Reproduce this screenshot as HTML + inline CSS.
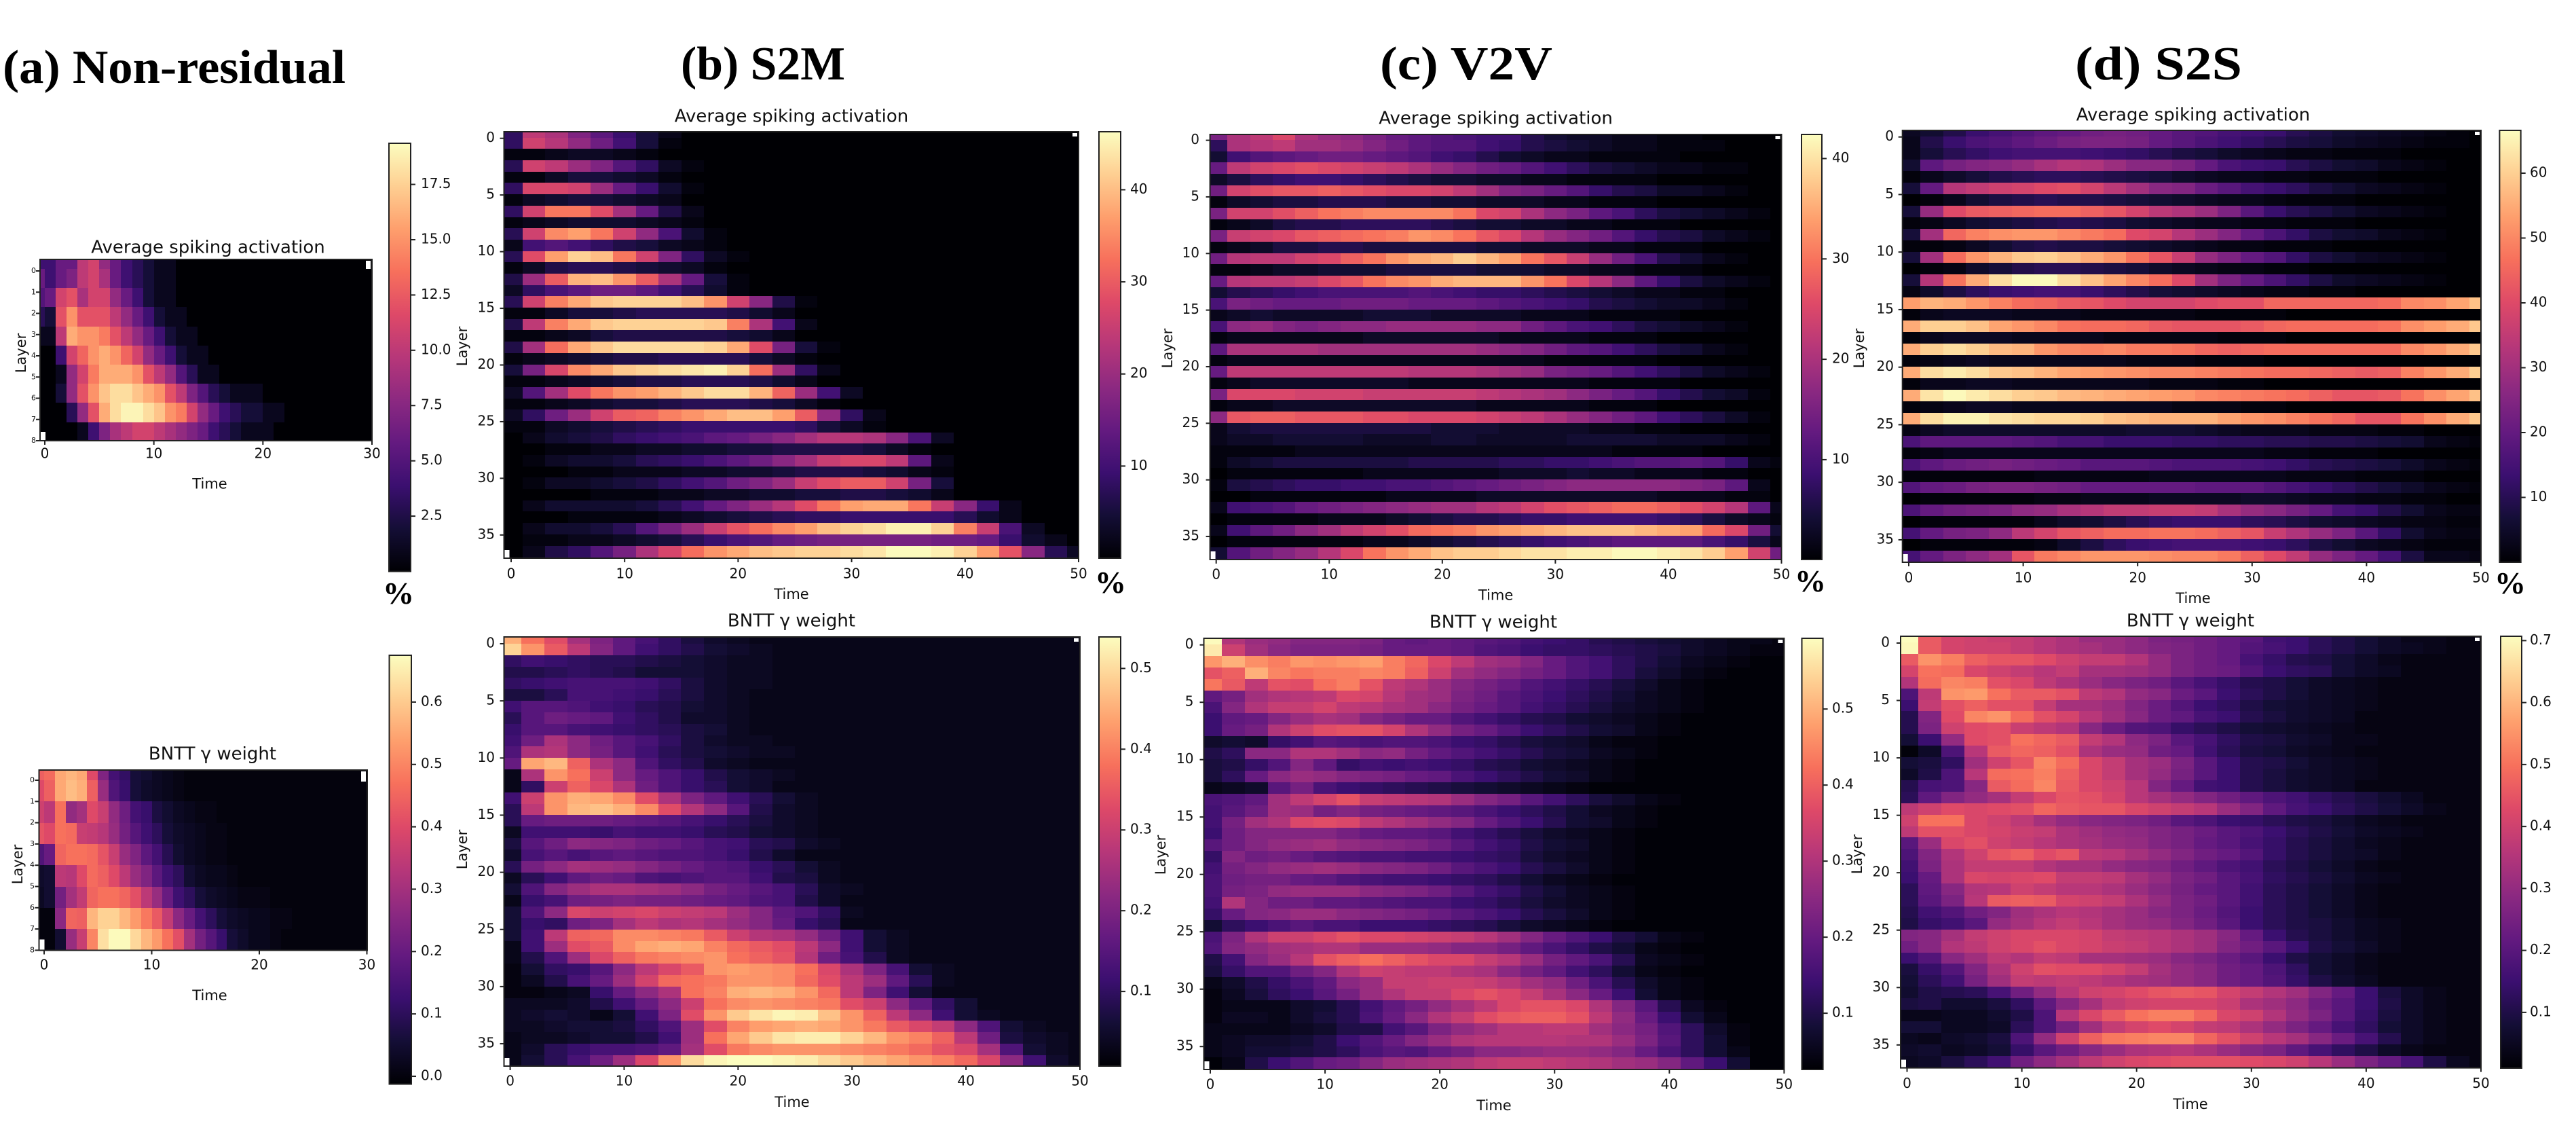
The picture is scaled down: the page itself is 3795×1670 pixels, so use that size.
<!DOCTYPE html>
<html lang="en">
<head>
<meta charset="utf-8">
<title>Spiking activation and BNTT gamma weight heatmaps</title>
<style>
html,body{margin:0;padding:0;background:#fff;}
svg{display:block;}
text{font-family:"DejaVu Sans",sans-serif;fill:#111;}
.heading{font-family:"Liberation Serif",serif;font-weight:bold;font-size:70px;fill:#000;}
.pct{font-family:"Liberation Serif",serif;font-weight:bold;font-size:46px;fill:#000;}
</style>
</head>
<body>
<svg id="fig" xmlns="http://www.w3.org/2000/svg" width="3795" height="1670" viewBox="0 0 3795 1670">
<defs><linearGradient id="magmaGrad" x1="0" y1="1" x2="0" y2="0"></linearGradient></defs>
<text class="heading" x="4" y="122" textLength="505" lengthAdjust="spacingAndGlyphs">(a) Non-residual</text>
<text class="heading" x="1003" y="117" textLength="242" lengthAdjust="spacingAndGlyphs">(b) S2M</text>
<text class="heading" x="2033" y="117" textLength="254" lengthAdjust="spacingAndGlyphs">(c) V2V</text>
<text class="heading" x="3057" y="117" textLength="246" lengthAdjust="spacingAndGlyphs">(d) S2S</text>
<text class="pct" x="587" y="889" text-anchor="middle">%</text>
<text class="pct" x="1636" y="873" text-anchor="middle">%</text>
<text class="pct" x="2667" y="871" text-anchor="middle">%</text>
<text class="pct" x="3698" y="874" text-anchor="middle">%</text>
</svg>
<script>
const xTicks30=[0,10,20,30];
const xTicks50=[0,10,20,30,40,50];
const yTicks8=[0,1,2,3,4,5,6,7,8];
const yTicks37=[0,5,10,15,20,25,30,35];
const aSpikeCbTicks=[2.5,5,7.5,10,12.5,15,17.5];
const aGammaCbTicks=[0,10,20,30,40,50,60];
const s2mSpikeCbTicks=[10,20,30,40];
const s2mGammaCbTicks=[10,20,30,40,50];
const v2vSpikeCbTicks=[10,20,30,40];
const v2vGammaCbTicks=[10,20,30,40,50];
const s2sSpikeCbTicks=[10,20,30,40,50,60];
const s2sGammaCbTicks=[10,20,30,40,50,60,70];

const aSpikeRows=[
[4,4,6,6,10,11,8,6,4,3,2,1,1],
[6,4,6,7,10,11,9,6,4,3,2,1,1],
[5,6,11,12,9,11,11,8,6,4,2,1,1],
[3,2,12,15,12,12,12,10,8,6,4,2,1,1],
[1,1,10,16,15,15,14,12,10,8,6,4,2,1,1],
[0,0,4,11,13,15,16,15,13,11,8,6,4,2,1,1],
[0,0,1,8,11,14,16,16,16,15,12,10,8,5,3,1,1],
[0,0,2,8,12,15,17,18,18,17,16,15,12,10,7,5,3,2,1,1,1],
[0,0,0,3,8,12,16,18,19,19,18,17,15,14,11,8,6,4,3,2,2,1,1],
[0,0,0,0,1,4,7,9,10,11,11,10,9,8,7,6,4,3,2,1,1,1]
];
const aGammaRows=[
[44,46,55,57,55,40,24,14,11,6,5,3,2,1],
[40,44,55,58,56,44,28,16,12,6,4,3,2,1],
[37,34,47,27,30,40,36,27,21,14,12,7,5,3,2,1,1],
[42,40,47,46,36,35,33,28,22,17,13,10,6,4,3,2,1,1],
[16,20,45,47,47,46,42,36,28,24,18,14,9,5,3,2,1,1],
[4,5,34,33,40,46,44,40,34,28,24,18,13,10,5,3,2,2,1],
[3,5,22,30,35,45,47,47,45,41,34,28,20,13,10,6,4,3,2,1,1,1],
[0,0,26,45,44,57,61,61,57,53,48,43,35,26,20,14,10,6,4,3,2,2,1,1],
[0,0,5,28,36,50,63,67,67,62,57,53,47,41,30,22,17,12,6,4,2,2,1]
];
const s2mSpikeRows=[
[8,24,22,17,13,9,5,2],
[8,26,23,19,15,10,5,1],
[1,1,2,3,3,2,1],
[7,26,24,20,17,12,8,3,1],
[1,1,3,5,5,4,3,1],
[8,27,27,26,20,14,9,4,1],
[1,3,4,5,5,4,3,2],
[8,26,33,33,28,21,14,6,2],
[1,2,3,4,4,4,3,2,1],
[7,26,35,37,33,26,19,11,4,1],
[2,10,12,10,8,6,5,3,2,1],
[7,28,37,42,40,33,26,17,8,3,1],
[1,3,6,7,7,6,5,4,3,1],
[6,20,30,39,40,36,30,22,14,5,1],
[3,8,11,13,15,15,13,10,7,4,1],
[7,26,34,38,41,42,42,42,40,36,26,18,6,1],
[1,1,3,5,5,6,7,7,7,7,6,4,2],
[6,24,34,38,41,42,42,42,42,41,34,22,10,2],
[1,1,2,3,5,6,6,6,6,6,5,4,2],
[6,21,32,38,41,43,43,43,43,42,38,28,16,5,1],
[1,2,3,4,5,6,6,7,7,7,7,5,3,1],
[5,16,27,35,38,41,42,43,44,45,42,32,20,8,2],
[1,1,2,3,4,5,6,6,7,7,7,6,4,2],
[3,12,21,28,33,36,37,39,41,43,43,39,31,20,10,3],
[1,1,2,3,4,5,5,6,7,7,7,6,5,3,1],
[3,8,15,20,26,30,31,34,36,38,40,40,37,30,19,8,2],
[1,1,3,4,5,6,7,8,9,9,9,9,9,8,5,3,1],
[0,2,4,5,6,8,9,10,11,13,14,16,18,21,23,23,22,18,11,3],
[0,0,1,1,2,2,3,3,4,4,5,5,6,6,6,6,5,3,1],
[0,1,3,4,4,5,7,8,9,11,13,15,18,21,25,27,27,24,13,2],
[0,0,0,1,1,2,2,2,3,3,4,4,5,6,6,6,5,4,2,1],
[0,1,3,3,4,5,6,8,10,12,15,17,20,25,28,30,30,26,16,5],
[0,0,0,0,1,1,1,2,2,3,3,4,4,5,5,6,6,5,4,2],
[0,2,4,4,4,4,5,7,10,14,17,20,23,28,33,37,38,38,33,25,18,9,2],
[0,0,0,1,1,1,1,2,3,4,5,6,7,8,8,9,9,9,9,9,7,4,2],
[0,2,4,4,5,7,12,16,20,25,29,32,35,37,40,42,43,45,45,42,34,25,11,3],
[0,1,1,2,2,3,4,5,7,9,11,12,14,15,16,16,16,16,16,15,15,14,9,4,2],
[0,2,6,8,12,16,22,27,32,36,38,40,41,42,42,43,44,46,46,45,42,37,29,18,7,3]
];
const s2mGammaRows=[
[45,38,33,25,20,16,13,10,7,5,4,3],
[49,42,35,28,21,16,12,10,8,6,5,4,3],
[10,12,11,10,9,9,8,7,6,5,4,4,3,3],
[8,8,9,10,9,8,6,6,6,5,4,4,3,3],
[10,11,12,13,13,13,12,10,7,5,4,4,3,3],
[7,7,9,13,13,12,11,9,7,5,4,3,3,3],
[12,15,15,14,12,11,9,8,6,5,4,3,3,3],
[9,15,18,17,16,12,10,8,5,5,4,3,3,3],
[11,15,15,13,12,11,10,9,7,6,4,3,3,3],
[12,18,26,22,18,15,13,10,7,5,4,4,3,3],
[14,26,27,22,19,15,12,9,7,6,5,4,4,3,3],
[17,44,46,36,26,22,14,10,8,5,4,3,3],
[3,26,42,38,30,22,17,14,11,8,6,5,4,3,3,3],
[3,10,30,36,32,26,18,14,11,9,6,5,3,3],
[12,30,42,45,44,41,33,26,20,16,12,9,6,4,3,3,3],
[9,28,42,46,47,45,41,33,27,22,15,8,5,4,3,3],
[9,17,18,18,18,17,16,15,13,11,9,7,5,4,3,3],
[4,12,12,12,11,13,12,12,11,9,8,6,5,4,3,3],
[7,15,18,22,21,20,18,17,15,13,12,9,8,5,4,3],
[5,13,15,13,15,16,15,14,14,13,11,8,5,3,3],
[9,19,22,25,24,23,21,19,17,15,14,11,9,6,4,3],
[4,9,12,16,18,17,14,13,14,15,15,12,8,7,4,3],
[6,14,21,24,26,26,25,24,22,19,17,15,13,9,5,4],
[3,11,13,18,19,20,19,19,18,17,16,14,13,8,5,3,3],
[6,14,22,32,30,31,32,30,29,28,24,21,16,14,10,4,3],
[6,11,10,18,20,25,28,26,27,25,23,21,17,11,9,3,3],
[6,12,28,36,37,41,41,40,39,35,30,27,26,23,18,12,6,4,3],
[3,12,24,33,35,41,44,45,44,40,37,35,33,28,22,12,6,4,3],
[3,8,14,24,32,36,39,40,41,42,38,36,34,27,18,13,8,4,3],
[2,6,10,11,15,22,28,32,35,42,43,42,41,38,32,26,20,13,6,4,3],
[2,4,8,13,17,24,31,37,38,39,42,42,41,37,33,28,24,16,9,4,3],
[2,2,3,4,11,17,22,26,38,40,45,46,45,42,37,28,20,12,6,3],
[4,4,4,5,8,12,17,22,30,38,41,42,41,40,39,33,30,22,16,10,6,3],
[4,5,6,5,3,6,12,20,33,42,48,51,53,52,47,42,36,28,22,12,6,4,3,3],
[4,4,5,6,6,7,10,14,24,33,40,43,44,45,44,42,39,35,32,29,22,14,6,4,3],
[3,4,4,5,6,6,8,12,24,38,44,48,51,52,52,49,46,42,40,36,28,18,7,5,4,3],
[3,5,9,11,13,13,14,16,25,33,39,41,42,42,42,41,40,39,37,34,32,25,14,6,4,3],
[3,6,9,13,18,24,32,42,50,53,54,54,53,52,50,48,46,44,42,40,37,32,22,12,5,3]
];
const v2vSpikeRows=[
[15,20,22,25,20,18,17,15,13,12,11,10,9,9,6,4,3,3,2,2,1,1],
[7,20,21,22,19,19,18,16,14,12,11,11,9,8,6,5,4,3,2,2,1,1,1],
[4,9,11,12,13,14,14,13,12,11,9,8,6,4,3,2,2,1,1,1,1],
[13,22,24,25,26,25,24,23,22,20,18,16,14,13,11,9,7,5,4,3,2,2,1,1],
[3,5,7,8,9,9,8,7,6,5,4,4,3,3,2,2,1,1,1,1],
[14,24,26,27,27,28,27,26,25,25,24,22,19,16,15,13,11,8,6,5,3,3,2,1],
[1,3,4,5,5,6,6,6,5,5,4,4,3,3,3,2,2,1,1,1],
[15,24,24,26,28,30,31,32,32,32,32,30,25,24,20,17,15,12,10,7,5,4,3,2,1],
[1,2,3,5,6,6,7,7,7,7,6,5,4,4,3,3,2,2,1,1,1],
[15,23,24,25,27,28,29,30,31,33,32,30,27,25,21,18,16,14,11,8,6,5,3,2,1],
[1,2,3,5,5,6,6,5,5,5,5,5,4,4,3,3,3,2,2,1,1,1],
[14,21,22,22,24,25,28,30,33,35,36,38,36,34,30,27,23,18,14,10,6,4,2,1],
[1,1,2,3,3,4,4,4,5,5,5,5,4,4,4,3,3,2,2,1,1,1],
[13,21,22,22,23,25,27,30,32,33,35,36,36,36,33,30,25,21,17,12,8,5,3,2,1],
[4,6,7,8,9,10,10,10,10,11,10,9,8,8,7,6,5,4,3,2,2,1,1],
[10,15,14,13,13,13,14,14,14,13,13,13,12,11,10,9,8,6,5,4,3,3,2,1],
[2,3,4,3,3,3,3,4,4,4,3,3,3,3,2,2,2,1,1,1,1],
[10,17,18,16,15,16,17,17,18,18,18,18,17,17,14,12,10,9,7,5,4,3,2,1],
[1,2,2,2,2,2,2,3,3,3,3,3,3,2,2,2,2,1,1,1],
[12,20,20,20,20,19,19,19,19,19,19,19,18,17,16,14,12,11,9,7,5,4,2,1],
[1,2,2,2,2,2,2,2,2,2,2,2,2,2,2,1,1,1,1,1],
[13,22,22,22,22,22,22,22,22,21,21,21,20,19,18,15,14,13,11,9,7,5,3,2,1],
[1,2,3,3,3,3,3,3,3,2,2,2,2,2,2,2,2,1,1,1,1],
[15,25,25,25,24,24,24,23,23,23,23,23,22,21,20,19,17,15,13,11,8,6,4,3,1],
[1,2,2,3,3,3,3,3,3,3,3,3,2,2,2,2,2,1,1,1],
[17,27,28,28,27,27,27,26,26,25,25,25,24,23,22,20,18,16,14,12,9,7,5,3,1],
[2,4,5,5,5,5,5,5,5,5,4,4,4,3,3,3,3,2,2,1,1],
[2,3,3,4,4,4,4,3,3,3,4,4,3,3,3,3,4,4,4,4,3,3,3,2,1],
[1,1,1,1,2,2,2,2,2,2,2,2,2,2,2,2,2,2,1,1,1,1],
[1,3,4,5,5,5,5,5,5,6,6,6,6,7,7,8,8,9,10,11,11,12,11,8,2,1],
[0,1,1,1,1,1,1,2,2,2,2,2,2,3,3,3,4,3,3,2,2,2,1,1],
[1,5,6,7,8,8,9,9,10,10,11,12,13,14,15,16,17,17,17,17,17,16,15,12,2],
[0,0,1,1,1,1,1,1,2,2,2,2,3,3,3,3,3,3,3,3,2,2,2,1,1],
[2,9,10,11,13,14,15,16,17,18,19,19,21,22,24,26,27,28,29,29,28,26,24,21,12,2],
[0,1,1,1,1,2,2,2,3,4,5,6,6,7,8,8,9,9,9,9,8,7,5,3,2,1],
[2,9,12,14,17,19,22,24,26,29,30,31,33,34,35,36,37,37,37,36,35,34,29,25,14,4],
[0,1,1,1,1,1,1,2,2,3,4,5,6,7,8,9,10,11,12,12,12,12,10,8,5,2],
[4,11,14,16,18,21,25,30,33,35,37,38,38,39,40,40,41,41,42,42,41,40,38,34,24,14]
];
const v2vGammaRows=[
[59,30,27,26,24,24,24,23,20,19,20,19,18,17,15,14,13,11,10,9,8,7,6,5,5,4],
[57,34,28,25,23,23,23,22,20,20,20,19,17,16,14,13,13,12,11,10,9,7,6,5,4,4],
[47,50,46,44,47,46,47,48,44,41,36,32,28,27,24,20,17,15,12,10,8,6,5,4,3,3],
[38,40,50,45,43,44,44,45,44,40,34,28,26,24,22,20,17,15,12,9,7,5,4,3,3],
[43,39,32,38,37,42,44,38,32,30,27,24,22,20,17,15,13,11,9,7,5,4,3],
[19,22,28,30,31,32,36,35,31,28,27,23,21,18,16,14,12,10,8,6,5,4,3],
[16,24,30,33,33,35,32,31,29,28,25,22,20,18,15,13,11,9,7,6,5,4,3],
[14,19,20,24,27,29,28,24,22,20,20,17,15,13,11,10,8,7,6,5,4,3],
[14,20,22,30,34,37,38,38,35,30,26,22,20,17,14,12,10,8,7,5,4,3],
[7,8,7,13,15,18,17,16,17,17,16,14,13,11,9,8,7,5,4,4,3],
[10,12,25,25,30,30,28,25,26,22,19,17,15,13,11,9,8,6,5,4,3],
[9,10,13,17,24,19,13,15,14,15,14,13,11,10,8,7,6,5,4,3],
[9,12,20,25,27,26,24,23,22,20,19,16,14,12,10,8,7,5,4,3],
[5,6,7,18,22,16,14,13,12,11,10,9,8,7,6,5,4,3],
[16,17,19,28,32,35,38,33,32,31,30,27,24,22,18,15,12,9,7,5,4,3],
[15,18,21,28,27,22,24,22,21,20,19,18,16,14,12,10,8,6,5,4,3],
[15,22,28,30,36,37,36,32,30,28,26,24,20,17,14,11,8,7,5,4,3],
[14,21,24,24,24,24,22,20,19,19,18,15,13,11,9,7,6,5,4,3],
[18,21,24,26,27,28,26,25,24,23,21,18,15,13,10,8,7,5,4,3],
[13,24,21,22,20,18,17,16,16,15,15,14,13,12,9,7,6,5,4,3],
[15,22,24,26,27,28,27,25,24,23,21,18,16,14,11,9,7,5,4,3],
[16,21,22,22,20,19,17,16,15,15,14,13,12,10,8,6,5,4,3],
[16,22,23,26,27,27,27,25,24,23,21,18,15,13,10,8,6,5,4,3],
[15,30,24,21,21,19,19,18,17,16,16,14,13,11,9,7,6,5,4,3],
[13,20,24,25,27,27,25,24,23,22,20,18,16,14,11,9,7,5,4,3],
[8,12,14,16,18,16,16,14,14,14,13,12,11,9,7,6,5,4,3],
[16,23,30,34,34,36,38,36,36,35,34,33,31,28,24,20,17,14,10,8,5,4,3],
[17,24,26,28,29,30,30,27,27,27,26,24,24,22,19,16,13,10,8,5,4,3],
[10,15,24,27,31,38,40,42,40,38,36,36,33,31,27,22,19,16,11,6,5,4,3],
[9,13,17,17,21,24,30,34,33,32,32,30,29,25,22,19,15,12,8,5,4,3],
[5,7,10,13,16,19,25,27,33,33,34,34,33,31,28,26,21,16,11,7,5,4,3],
[4,6,9,12,14,18,22,27,30,33,33,36,38,36,33,29,25,20,14,8,5,4,3],
[4,5,5,5,7,8,11,15,19,22,26,29,32,36,38,38,36,30,24,18,11,6,4,3],
[4,6,6,5,7,9,11,16,20,25,30,33,37,39,40,40,38,32,26,20,14,8,5,3],
[5,5,5,5,6,7,10,10,15,18,23,26,28,31,31,32,32,28,25,22,17,12,7,4,3],
[5,6,7,7,8,10,14,17,20,24,27,30,31,31,31,31,30,30,27,23,18,12,8,4,3],
[5,6,8,8,9,10,12,16,18,17,20,22,25,25,26,27,27,26,24,20,16,12,8,5,3],
[3,5,10,14,17,20,21,24,27,28,29,30,32,33,33,32,31,30,28,27,24,19,14,8,3]
];
const s2sSpikeRows=[
[4,6,9,13,15,17,19,20,22,23,22,20,18,17,15,14,13,10,8,6,5,4,3,2,1],
[3,9,13,16,17,19,21,23,24,24,23,20,18,16,14,12,10,8,7,5,4,3,2,1,1],
[3,7,10,12,14,15,15,15,14,13,12,10,8,7,5,4,3,2,2,1,1,1],
[6,19,23,25,26,28,31,33,32,29,26,26,24,20,16,14,13,10,8,6,5,3,2,1],
[1,3,5,7,9,10,11,11,10,9,8,7,5,4,3,3,2,2,1,1,1],
[7,20,33,35,37,38,40,41,38,34,30,26,25,21,18,15,13,11,8,6,4,3,2,1],
[0,1,3,6,8,9,10,9,9,8,7,6,5,4,3,3,2,1,1,1],
[7,28,40,43,44,45,46,46,44,42,38,34,32,29,24,18,13,10,8,6,4,3,2,1],
[1,2,4,6,7,8,9,10,9,8,6,5,4,3,3,2,2,1,1,1],
[7,30,45,49,51,52,52,50,48,46,40,38,33,29,25,20,16,12,8,6,5,3,2,1],
[1,1,2,4,6,8,9,8,8,7,6,5,4,3,2,2,1,1,1],
[7,30,46,52,56,59,60,58,55,52,47,42,36,28,24,20,17,12,8,6,4,3,2,1],
[0,1,2,5,7,9,10,10,9,8,7,5,4,3,2,2,1,1],
[7,33,47,55,62,66,66,62,58,54,50,46,40,30,24,20,16,12,8,5,4,3,2,1],
[2,5,8,11,13,14,15,15,13,11,9,7,6,5,4,3,2,2,1,1],
[53,56,55,52,49,46,45,43,42,40,38,38,38,40,41,41,45,45,45,45,45,46,50,51,54,58],
[1,3,4,4,4,3,3,3,2,2,2,2,2,1,1,1,1],
[55,60,60,58,54,52,50,47,46,46,45,43,42,42,42,43,45,46,46,46,46,47,51,53,55,59],
[1,3,4,4,4,3,3,3,3,2,2,2,2,2,1,1,1],
[55,60,62,60,57,56,52,50,49,50,48,48,47,45,44,45,46,46,46,46,46,46,50,52,55,59],
[1,2,3,4,3,3,3,3,3,3,2,2,2,1,1,1],
[55,62,64,62,59,58,56,54,53,52,51,50,50,49,48,47,46,46,45,44,43,44,49,52,55,60],
[1,3,3,4,4,3,3,3,3,3,3,2,2,2,1,1],
[55,63,66,64,62,60,59,57,56,55,54,53,52,50,49,48,47,46,44,42,42,43,47,51,54,58],
[1,2,3,4,4,3,3,3,3,3,3,3,2,2,2,1,1],
[55,62,65,65,63,62,61,61,60,58,57,56,56,56,54,52,51,49,47,45,42,42,47,51,55,59],
[2,4,5,5,5,5,5,5,5,5,6,6,6,5,4,3,3,3,2,2,2,1,1],
[16,19,19,19,19,18,17,15,15,13,13,13,12,12,11,11,10,10,9,9,8,7,6,3,2,1],
[1,2,3,3,3,3,3,3,3,3,3,3,3,3,3,3,2,2,1,1,1],
[16,19,21,22,23,22,21,20,18,18,18,17,16,16,16,15,14,12,10,9,8,7,5,3,2,1],
[1,1,1,1,1,1,2,2,2,2,2,3,3,3,3,3,3,2,2,2,1,1,1],
[17,20,21,23,24,24,23,22,20,20,20,20,20,19,19,19,17,15,13,11,9,7,5,3,2,1],
[0,1,1,1,1,1,2,2,3,3,3,4,4,4,4,5,5,4,3,3,2,2,1,1],
[16,20,22,23,24,27,28,31,33,35,35,36,36,35,31,28,26,23,20,15,13,9,6,3,2,2],
[0,1,1,1,1,1,3,5,6,8,10,12,13,13,13,11,10,8,6,5,4,3,2,2,1,1],
[15,20,23,24,27,34,38,42,44,46,46,47,47,46,44,42,36,32,28,24,18,12,6,3,2,2],
[0,1,1,1,1,1,2,5,8,11,13,14,15,15,15,14,13,11,8,6,4,3,2,1,1,1],
[15,20,24,27,30,42,48,50,52,52,52,51,50,50,48,44,40,35,28,24,20,15,8,3,3,2]
];
const s2sGammaRows=[
[71,46,41,40,39,38,36,34,31,31,29,26,25,24,22,20,16,15,12,10,8,6,4,4,3,3],
[70,46,41,40,40,38,36,34,33,31,29,27,26,24,22,19,17,15,12,10,8,6,5,4,3,3],
[46,55,52,47,45,45,43,40,38,38,35,30,26,24,22,17,14,11,10,8,6,4,3,3,3],
[41,50,49,42,40,38,36,38,33,33,32,30,26,24,23,19,15,13,12,8,6,5,3,3,3],
[35,49,53,52,44,42,37,34,31,28,26,24,20,17,14,11,10,8,6,5,4,3,3],
[18,37,55,56,50,46,46,44,37,35,30,28,23,20,15,12,10,8,6,5,4,3,3],
[15,38,44,47,44,44,38,33,33,31,27,23,19,15,13,10,8,7,6,5,4,3,3],
[11,27,43,53,55,49,44,41,36,32,28,23,21,17,15,11,9,7,6,5,3,3],
[11,26,40,43,44,39,37,35,28,23,19,18,14,12,10,8,7,6,5,4,3,3],
[8,15,30,43,44,50,48,46,38,35,29,26,20,17,13,10,9,7,6,4,4,3],
[2,6,18,36,46,48,47,44,34,31,30,24,22,16,12,9,8,6,5,4,3,3],
[8,9,13,32,40,45,53,49,42,38,33,31,26,20,15,11,10,8,6,5,4,3],
[6,10,18,36,49,50,52,47,42,38,33,30,25,20,15,11,9,7,6,5,4,3],
[11,17,18,28,46,49,53,46,42,40,36,27,22,16,15,11,9,7,6,5,3,3],
[12,21,27,30,33,38,42,45,44,41,36,33,30,27,24,21,18,16,13,11,9,7,5,3],
[37,40,43,42,43,44,48,46,45,45,42,40,38,36,31,27,21,17,15,12,10,8,6,4,3],
[40,50,50,42,40,37,33,30,28,27,26,24,20,18,15,14,12,10,9,7,5,4,3],
[37,44,44,42,41,39,38,34,32,30,29,27,25,23,20,18,15,12,10,8,6,5,4,3],
[20,31,42,44,40,38,36,34,33,31,30,27,25,22,20,17,14,11,9,7,5,4,3],
[18,27,35,40,45,47,43,45,37,36,33,30,27,24,22,19,14,11,9,7,6,4,3],
[16,26,34,38,38,38,35,33,33,30,28,27,24,21,18,16,12,10,8,6,4,3],
[15,22,34,42,41,42,43,38,38,37,33,30,26,24,20,17,13,11,9,7,5,4,3],
[12,21,28,35,36,40,38,36,36,34,31,28,25,22,20,16,12,10,8,6,4,3],
[12,20,26,36,46,47,46,41,40,38,34,30,26,24,20,16,12,10,8,6,4,3],
[11,16,19,24,27,32,34,36,35,33,31,28,26,23,19,15,12,10,8,6,4,3],
[10,14,16,20,30,33,36,38,36,33,31,30,27,24,20,15,12,10,9,7,5,4,3],
[27,28,33,38,40,42,42,42,41,38,37,36,34,32,28,22,15,11,9,7,5,4,3],
[24,28,35,37,40,42,44,42,41,39,38,36,34,32,27,24,20,15,10,8,6,4,3],
[15,19,28,32,37,35,38,37,33,33,32,31,28,26,23,20,15,10,8,6,4,3],
[9,14,19,27,34,40,44,43,43,41,38,33,30,28,24,22,18,13,8,6,4,3],
[8,12,16,25,32,38,37,38,37,35,33,32,30,28,24,22,19,14,10,7,5,3],
[7,10,11,12,17,24,30,36,40,41,43,45,46,45,41,38,35,32,27,22,15,9,6,4,3,3],
[9,10,7,7,9,13,21,28,33,38,40,41,41,41,39,34,32,29,24,20,15,10,6,4,3,3],
[4,4,5,5,7,10,18,36,42,46,50,52,52,48,42,40,35,30,26,20,14,9,6,4,3,3],
[8,8,5,5,6,12,18,25,32,38,41,43,41,38,37,34,30,26,22,17,13,8,6,4,3,3],
[5,4,6,7,9,18,30,40,47,51,52,53,53,48,44,40,36,33,28,23,17,11,6,4,3,3],
[6,7,5,6,8,14,20,24,28,31,34,35,36,34,31,28,26,21,17,13,10,6,4,3,3],
[5,6,9,12,16,24,29,33,37,40,42,43,44,44,44,43,42,40,36,31,26,22,17,10,5,3]
];

const magmaStops=["#000004","#140e36","#3b0f70","#641a80","#8c2981","#b73779","#de4968","#f7705c","#fe9f6d","#fecf92","#fcfdbf"];
const magmaRgb=magmaStops.map(function(h){return [parseInt(h.substr(1,2),16),parseInt(h.substr(3,2),16),parseInt(h.substr(5,2),16)];});
function magma(t){
  t=Math.max(0,Math.min(1,t));
  var p=t*10,i=Math.min(9,Math.floor(p)),f=p-i,a=magmaRgb[i],b=magmaRgb[i+1];
  return "rgb("+Math.round(a[0]+(b[0]-a[0])*f)+","+Math.round(a[1]+(b[1]-a[1])*f)+","+Math.round(a[2]+(b[2]-a[2])*f)+")";
}
var NS="http://www.w3.org/2000/svg";
var fig=document.getElementById("fig");
var grad=document.getElementById("magmaGrad");
magmaStops.forEach(function(c,i){
  var s=document.createElementNS(NS,"stop");
  s.setAttribute("offset",(i*10)+"%");
  s.setAttribute("stop-color",c);
  grad.appendChild(s);
});
function mk(tag,attrs,parent,txt){
  var e=document.createElementNS(NS,tag);
  for(var k in attrs){e.setAttribute(k,attrs[k]);}
  if(txt!==undefined){e.textContent=txt;}
  parent.appendChild(e);
  return e;
}

const panels=[
{name:"panel-a-spiking",title:"Average spiking activation",tx:306.5,ty:365,left:59,right:548,top:382,bottom:649,x0:66,x1:548,xMax:30,y0:399,yStep:31.25,rowStart:396,rowStep:28.2,rows:aSpikeRows,floor:0,vmin:0,vmax:19.36,mode:"single",xTicks:xTicks30,yTicks:yTicks8,yFont:11,timeX:309,timeY:713.5,xLabY:669,layerX:32,layerY:520,yLabR:53,cx0:573,cx1:605,ctop:211,cbot:841.5,cTicks:aSpikeCbTicks,cScale:1,cDec:1,cLabX:620,markH:12},
{name:"panel-a-gamma",title:"BNTT \u03b3 weight",tx:313,ty:1111,left:57.5,right:541,top:1134,bottom:1399.5,x0:65,x1:540.5,xMax:30,y0:1149,yStep:31.3,rowStart:1149,rowStep:31.3,rows:aGammaRows,floor:0,vmin:-1.25,vmax:67.5,mode:"single",xTicks:xTicks30,yTicks:yTicks8,yFont:11,timeX:309,timeY:1467,xLabY:1422,layerX:27,layerY:1273,yLabR:51,cx0:573.5,cx1:606,ctop:965,cbot:1596.5,cTicks:aGammaCbTicks,cScale:0.01,cDec:1,cLabX:620,markH:15},
{name:"panel-b-spiking",title:"Average spiking activation",tx:1166,ty:172,left:742.5,right:1589,top:194,bottom:822,x0:753,x1:1589,xMax:50,y0:203.7,yStep:16.69,rowStart:202.7,rowStep:16.69,rows:s2mSpikeRows,floor:0,vmin:0,vmax:46.3,mode:"pair",xTicks:xTicks50,yTicks:yTicks37,yFont:20,timeX:1166,timeY:876,xLabY:846,layerX:682,layerY:510,yLabR:729,cx0:1619,cx1:1651,ctop:194,cbot:822,cTicks:s2mSpikeCbTicks,cScale:1,cDec:0,cLabX:1665,markH:5},
{name:"panel-b-gamma",title:"BNTT \u03b3 weight",tx:1166,ty:915,left:742.5,right:1591,top:938,bottom:1570,x0:751.6,x1:1591,xMax:50,y0:948,yStep:16.83,rowStart:948,rowStep:16.83,rows:s2mGammaRows,floor:3,vmin:0.76,vmax:53.9,mode:"pair",xTicks:xTicks50,yTicks:yTicks37,yFont:20,timeX:1167,timeY:1624,xLabY:1593,layerX:682,layerY:1251,yLabR:729,cx0:1619,cx1:1651,ctop:938,cbot:1570,cTicks:s2mGammaCbTicks,cScale:0.01,cDec:1,cLabX:1665,markH:5},
{name:"panel-c-spiking",title:"Average spiking activation",tx:2203.6,ty:175,left:1782.6,right:2624.5,top:198,bottom:824,x0:1791.7,x1:2624.5,xMax:50,y0:206.6,yStep:16.67,rowStart:206,rowStep:16.67,rows:v2vSpikeRows,floor:0,vmin:0.05,vmax:42.4,mode:"pair",xTicks:xTicks50,yTicks:yTicks37,yFont:20,timeX:2203.6,timeY:877.5,xLabY:847,layerX:1721,layerY:513,yLabR:1767,cx0:2654,cx1:2684,ctop:198,cbot:824,cTicks:v2vSpikeCbTicks,cScale:1,cDec:0,cLabX:2699,markH:5},
{name:"panel-c-gamma",title:"BNTT \u03b3 weight",tx:2200,ty:917,left:1773.5,right:2628.4,top:940,bottom:1575,x0:1783,x1:2628.4,xMax:50,y0:949.7,yStep:16.9,rowStart:949,rowStep:16.9,rows:v2vGammaRows,floor:3,vmin:2.6,vmax:59.3,mode:"pair",xTicks:xTicks50,yTicks:yTicks37,yFont:20,timeX:2201,timeY:1629,xLabY:1598,layerX:1711,layerY:1259,yLabR:1758.5,cx0:2654.5,cx1:2685.6,ctop:940,cbot:1575,cTicks:v2vGammaCbTicks,cScale:0.01,cDec:1,cLabX:2699,markH:5},
{name:"panel-d-spiking",title:"Average spiking activation",tx:3231,ty:170,left:2802.7,right:3655,top:192,bottom:828,x0:2812,x1:3655,xMax:50,y0:201.7,yStep:16.95,rowStart:201,rowStep:16.95,rows:s2sSpikeRows,floor:0,vmin:0,vmax:66.6,mode:"pair",xTicks:xTicks50,yTicks:yTicks37,yFont:20,timeX:3231,timeY:882,xLabY:852,layerX:2740,layerY:513,yLabR:2790,cx0:3682.4,cx1:3713.7,ctop:192,cbot:828,cTicks:s2sSpikeCbTicks,cScale:1,cDec:0,cLabX:3727,markH:5},
{name:"panel-d-gamma",title:"BNTT \u03b3 weight",tx:3227,ty:915,left:2800,right:3655,top:937,bottom:1572.6,x0:2809.5,x1:3655,xMax:50,y0:947,yStep:16.91,rowStart:946,rowStep:16.91,rows:s2sGammaRows,floor:3,vmin:1,vmax:70.7,mode:"pair",xTicks:xTicks50,yTicks:yTicks37,yFont:20,timeX:3227,timeY:1627,xLabY:1596.5,layerX:2737,layerY:1258,yLabR:2784,cx0:3684,cx1:3715,ctop:937,cbot:1573,cTicks:s2sGammaCbTicks,cScale:0.01,cDec:1,cLabX:3727,markH:5}
];

function drawPanel(p){
  var g=document.createElementNS(NS,"g");
  
  
  fig.appendChild(g);
  function xScale(t){return p.x0+(p.x1-p.x0)*t/p.xMax;}
  function yScale(l){return p.y0+p.yStep*l;}
  function colour(v){return magma((v-p.vmin)/(p.vmax-p.vmin));}
  var nCols=p.mode==="pair"?26:31;
  function colEdges(j){
    var a,b;
    if(p.mode==="pair"){a=j===0?p.left:xScale(2*j-1);b=j===0?xScale(1):xScale(2*j+1);}
    else{a=j===0?p.left:xScale(j-1);b=xScale(j);}
    return [Math.round(a),Math.round(Math.min(b,p.right))];
  }
  p.rows.forEach(function(row,i){
    var ya=i===0?p.top:p.rowStart+(i-1)*p.rowStep;
    var yb=p.rowStart+i*p.rowStep;
    if(i===p.rows.length-1){yb=p.bottom;}
    ya=Math.round(ya);
    yb=Math.round(Math.min(yb,p.bottom));
    for(var j=0;j<nCols;j++){
      var ed=colEdges(j);
      if(ed[1]<=ed[0]){continue;}
      var v=j<row.length?row[j]:p.floor;
      var cell=mk("rect",{x:ed[0],y:ya,width:ed[1]-ed[0],height:yb-ya,fill:colour(v),"shape-rendering":"crispEdges"},g);
      
      
    }
  });
  var m1=mk("rect",{x:p.right-9,y:p.top+2,width:7,height:p.markH,fill:"#fff"},g);
  
  
  var m2=mk("rect",{x:p.left+1,y:p.bottom-Math.max(11,p.markH)-1,width:7,height:Math.max(11,p.markH),fill:"#fff"},g);
  
  
  var frame=mk("rect",{x:p.left,y:p.top,width:p.right-p.left,height:p.bottom-p.top,fill:"none",stroke:"#222","stroke-width":2},g);
  
  

  var title=mk("text",{x:p.tx,y:p.ty,"text-anchor":"middle","dominant-baseline":"middle","font-size":26},g,p.title);
  
  
  var timeLab=mk("text",{x:p.timeX,y:p.timeY,"text-anchor":"middle","dominant-baseline":"middle","font-size":21},g,"Time");
  
  
  var layerLab=mk("text",{x:p.layerX,y:p.layerY,"text-anchor":"middle","dominant-baseline":"middle","font-size":21,transform:"rotate(-90 "+p.layerX+" "+p.layerY+")"},g,"Layer");
  
  

  p.xTicks.forEach(function(t){
    var x=xScale(t);
    var tm=mk("line",{x1:x,x2:x,y1:p.bottom,y2:p.bottom+6,stroke:"#222","stroke-width":2},g);
    
    
    var tl=mk("text",{x:x,y:p.xLabY,"text-anchor":"middle","dominant-baseline":"middle","font-size":20},g,String(t));
    
    
  });
  p.yTicks.forEach(function(l){
    var y=yScale(l);
    var tm=mk("line",{x1:p.left-6,x2:p.left,y1:y,y2:y,stroke:"#222","stroke-width":2},g);
    
    
    var tl=mk("text",{x:p.yLabR,y:y,"text-anchor":"end","dominant-baseline":"middle","font-size":p.yFont},g,String(l));
    
    
  });

  var bar=mk("rect",{x:p.cx0,y:p.ctop,width:p.cx1-p.cx0,height:p.cbot-p.ctop,fill:"url(#magmaGrad)",stroke:"#222","stroke-width":2},g);
  
  
  function cScale(v){return p.cbot-(v-p.vmin)/(p.vmax-p.vmin)*(p.cbot-p.ctop);}
  p.cTicks.forEach(function(v){
    var y=cScale(v);
    var tm=mk("line",{x1:p.cx1,x2:p.cx1+7,y1:y,y2:y,stroke:"#222","stroke-width":2},g);
    
    
    var tl=mk("text",{x:p.cLabX,y:y,"dominant-baseline":"middle","font-size":20},g,(v*p.cScale).toFixed(p.cDec));
    
    
  });
}
panels.forEach(drawPanel);
</script>
</body>
</html>
